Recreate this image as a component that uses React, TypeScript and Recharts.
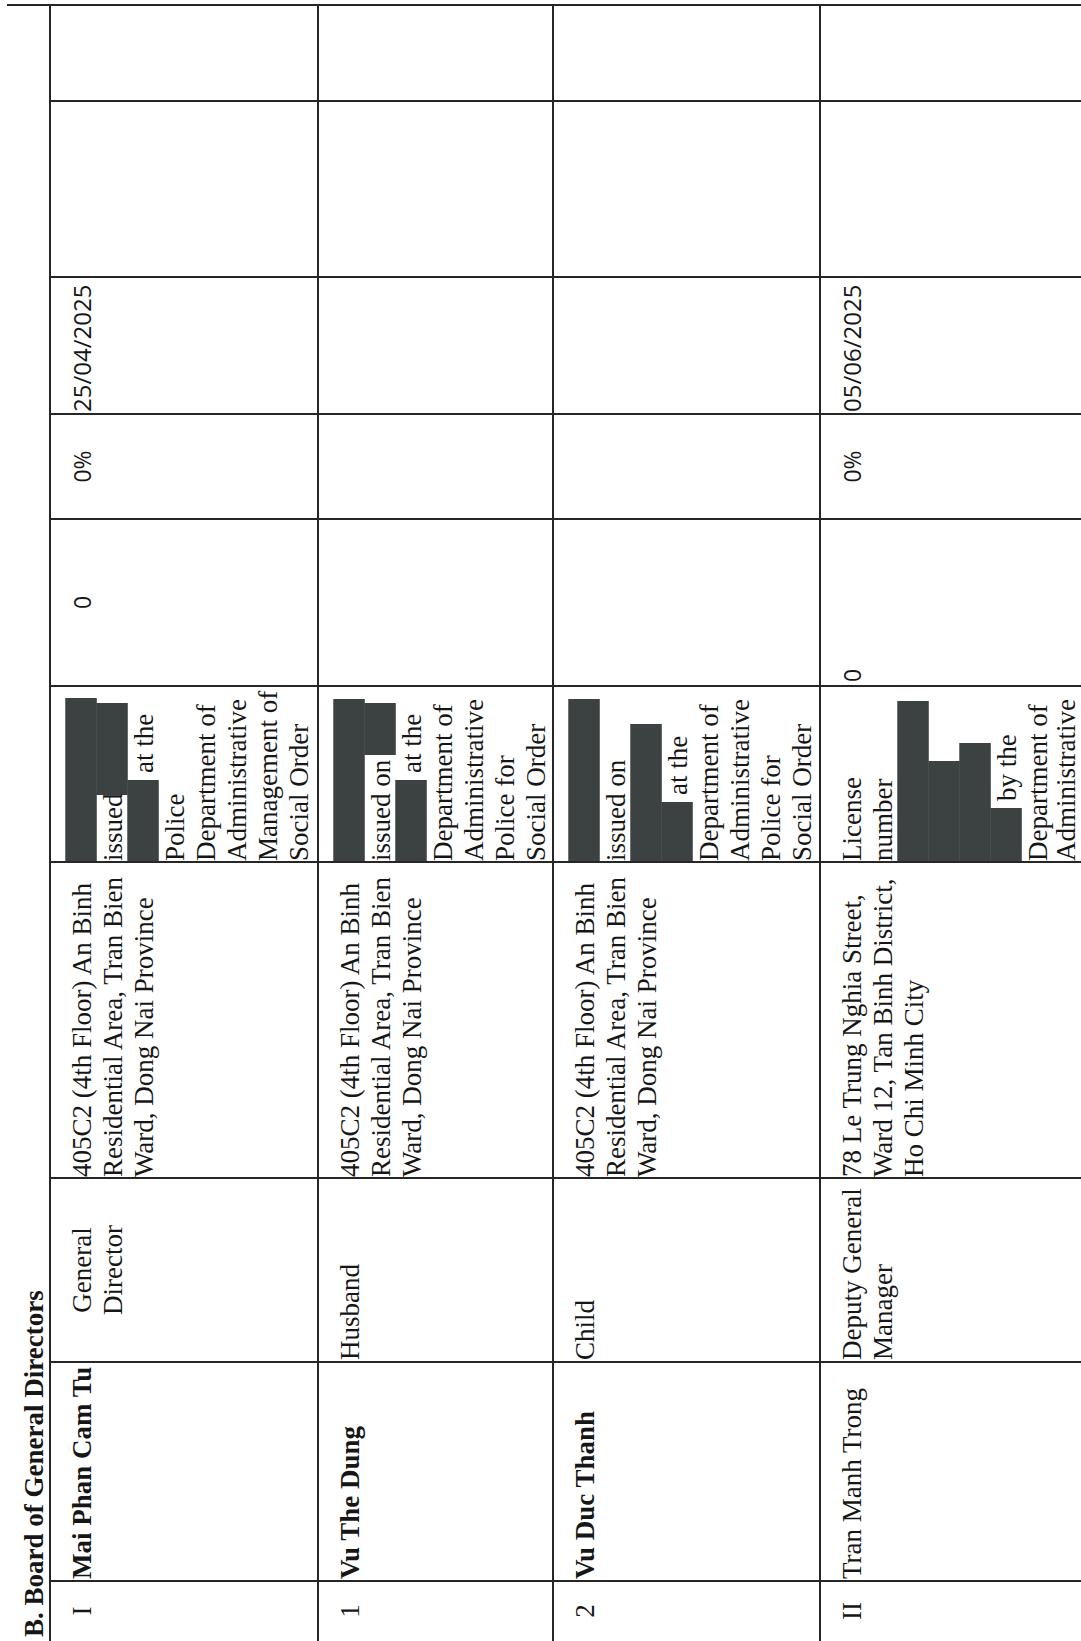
import React from "react";
import { ComposedChart, Bar, Scatter, XAxis, YAxis, ReferenceLine } from "recharts";

// ---------------- data (read from the scanned page) ----------------
const sectionTitle = "B. Board of General Directors";
const rowNumbers = ["I", "1", "2", "II"];
const memberNames = ["Mai Phan Cam Tu", "Vu The Dung", "Vu Duc Thanh", "Tran Manh Trong"];
const memberRoles = [["General", "Director"], ["Husband"], ["Child"], ["Deputy General", "Manager"]];
const memberAddresses = [
  ["405C2 (4th Floor) An Binh", "Residential Area, Tran Bien", "Ward, Dong Nai Province"],
  ["405C2 (4th Floor) An Binh", "Residential Area, Tran Bien", "Ward, Dong Nai Province"],
  ["405C2 (4th Floor) An Binh", "Residential Area, Tran Bien", "Ward, Dong Nai Province"],
  ["78 Le Trung Nghia Street,", "Ward 12, Tan Binh District,", "Ho Chi Minh City"],
];
const issuanceLines = [
  ["", "issued", "at the", "Police", "Department of", "Administrative", "Management of", "Social Order"],
  ["", "issued on", "at the", "Department of", "Administrative", "Police for", "Social Order"],
  ["", "issued on", "", "at the", "Department of", "Administrative", "Police for", "Social Order"],
  ["License", "number", "", "", "", "by the", "Department of", "Administrative"],
];
const sharesHeld = ["0", "", "", "0"];
const ownershipRatio = ["0%", "", "", "0%"];
const appointmentDates = ["25/04/2025", "", "", "05/06/2025"];

// redacted spans: row, text line, start and end (length along the text, px)
const redactionRow = [0, 0, 0, 1, 1, 1, 2, 2, 2, 3, 3, 3, 3];
const redactionLine = [0, 1, 2, 0, 1, 2, 0, 2, 3, 2, 3, 4, 5];
const redactionStart = [0, 67, 0, 0, 107, 0, 0, 0, 0, 0, 0, 0, 0];
const redactionEnd = [164, 159, 82, 163, 159, 82, 163, 138, 60, 161, 101, 119, 54];

// ---------------- layout (page is rotated: table rows run left→right) ----------------
const W = 1081;
const H = 1641;
const ROW_X = [50, 318, 553, 820];
const COL_EDGES = [5, 101, 277, 414, 519, 686, 862, 1178, 1362, 1581];
const COL = {
  date: [277, 414],
  ratio: [414, 519],
  shares: [519, 686],
  issue: [686, 862],
  address: [862, 1178],
  role: [1178, 1362],
  name: [1362, 1581],
  no: [1581, 1641],
};
const LINE_H = 31;
const FIRST_BASE = 41;
const BAND_PAD = 16;
const PAD = 2;

const nameWeight = ["bold", "bold", "bold", "normal"];
const roleAlign = ["middle", "start", "start", "start"];
const sharesAlign = ["middle", "start", "start", "start"];

const SERIF = "'Liberation Serif', 'Times New Roman', serif";
const SANS = "'Open Sans', 'DejaVu Sans', sans-serif";
const INK = "#161616";
const LINE = "#262626";
const REDACT = "#3c4141";

type TextPt = {
  x: number;
  y: number;
  text: string;
  anchor: string;
  family: string;
  size: number;
  weight: string;
};

const mid = (c: number[]) => (c[0] + c[1]) / 2;
const baseX = (r: number, i: number) => Math.min(ROW_X[r] + FIRST_BASE + LINE_H * i, W - 6);

function buildTexts(): TextPt[] {
  const pts: TextPt[] = [];
  const add = (x: number, y: number, text: string, anchor: string, family: string, size: number, weight = "normal") => {
    if (text) pts.push({ x, y, text, anchor, family, size, weight });
  };
  add(43, 1637, sectionTitle, "start", SERIF, 27, "bold");
  for (let r = 0; r < rowNumbers.length; r++) {
    add(baseX(r, 0), mid(COL.no), rowNumbers[r], "middle", SERIF, 27);
    add(baseX(r, 0), COL.name[1] - PAD, memberNames[r], "start", SERIF, 27, nameWeight[r]);
    memberRoles[r].forEach((t, i) =>
      add(baseX(r, i), roleAlign[r] === "middle" ? mid(COL.role) : COL.role[1] - PAD, t, roleAlign[r], SERIF, 27)
    );
    memberAddresses[r].forEach((t, i) => add(baseX(r, i), COL.address[1] - 1, t, "start", SERIF, 27));
    issuanceLines[r].forEach((t, i) => {
      let offset = 0;
      for (let k = 0; k < redactionRow.length; k++) {
        if (redactionRow[k] === r && redactionLine[k] === i && redactionStart[k] === 0) offset = redactionEnd[k] + 6;
      }
      add(baseX(r, i), COL.issue[1] - 1 - offset, t, "start", SERIF, 27);
    });
    add(baseX(r, 0), sharesAlign[r] === "middle" ? mid(COL.shares) : COL.shares[1] - PAD - 2, sharesHeld[r], sharesAlign[r], SANS, 23);
    add(baseX(r, 0), mid(COL.ratio), ownershipRatio[r], "middle", SANS, 23);
    add(baseX(r, 0), COL.date[1] - PAD, appointmentDates[r], "start", SANS, 24);
  }
  return pts;
}

const textPoints = buildTexts();

const barData = redactionRow.map((r, k) => ({
  x: ROW_X[r] + BAND_PAD + LINE_H * redactionLine[k] + LINE_H / 2,
  range: [COL.issue[1] - redactionStart[k], COL.issue[1] - redactionEnd[k]],
}));

const TextShape = (props: any) => {
  const { cx, cy, payload } = props;
  if (cx == null || cy == null) return null;
  return (
    <text
      x={cx}
      y={cy}
      transform={`rotate(-90 ${cx} ${cy})`}
      textAnchor={payload.anchor}
      fontFamily={payload.family}
      fontSize={payload.size}
      fontWeight={payload.weight}
      fill={INK}
    >
      {payload.text}
    </text>
  );
};

// the bar's centre and vertical extent come from the chart's scales; its thickness is one text line
const RedactionShape = (p: any) => {
  if (p.x == null || p.y == null) return null;
  const cx = p.x + p.width / 2;
  const y = Math.min(p.y, p.y + p.height);
  const h = Math.abs(p.height);
  return <rect x={cx - LINE_H / 2 - 0.25} y={y} width={LINE_H + 0.5} height={h} fill={REDACT} />;
};

export default function App() {
  return (
    <div style={{ position: "absolute", left: 0, top: 0, width: W, height: H, background: "#ffffff" }}>
      <ComposedChart width={W} height={H} data={barData} margin={{ top: 0, right: 0, bottom: 0, left: 0 }}>
        <XAxis type="number" dataKey="x" domain={[0, W]} ticks={[0, W]} hide allowDataOverflow />
        <YAxis type="number" domain={[0, H]} reversed hide allowDataOverflow />
        {ROW_X.map((x) => (
          <ReferenceLine
            key={"v" + x}
            segment={[{ x, y: COL_EDGES[0] }, { x, y: H }]}
            stroke={LINE}
            strokeWidth={2}
            ifOverflow="visible"
          />
        ))}
        {COL_EDGES.map((y, i) => (
          <ReferenceLine
            key={"h" + y}
            segment={[{ x: i === 0 ? 7 : ROW_X[0], y }, { x: W, y }]}
            stroke={LINE}
            strokeWidth={2}
            ifOverflow="visible"
          />
        ))}
        <Bar dataKey="range" fill={REDACT} barSize={LINE_H} shape={RedactionShape} isAnimationActive={false} />
        <Scatter data={textPoints} dataKey="y" shape={TextShape} isAnimationActive={false} />
      </ComposedChart>
    </div>
  );
}
